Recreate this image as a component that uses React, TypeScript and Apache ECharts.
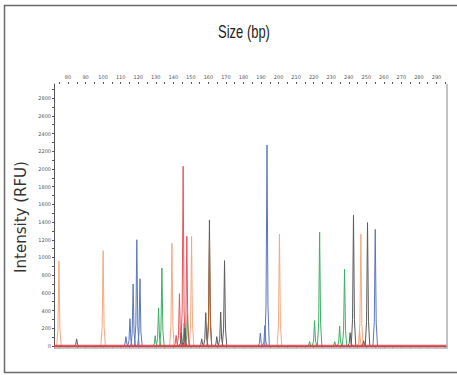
import React, { useEffect, useRef } from "react";
import * as echarts from "echarts";

// Tick labels / tick positions
const sizeLabels = [80, 90, 100, 110, 120, 130, 140, 150, 160, 170, 180, 190, 200, 210, 220, 230, 240, 250, 260, 270, 280, 290];
const sizeTicks = [75, 80, 85, 90, 95, 100, 105, 110, 115, 120, 125, 130, 135, 140, 145, 150, 155, 160, 165, 170, 175, 180, 185, 190, 195, 200, 205, 210, 215, 220, 225, 230, 235, 240, 245, 250, 255, 260, 265, 270, 275, 280, 285, 290, 295];
const rfuLabels = [0, 200, 400, 600, 800, 1000, 1200, 1400, 1600, 1800, 2000, 2200, 2400, 2600, 2800];
const rfuTicks = [0, 100, 200, 300, 400, 500, 600, 700, 800, 900, 1000, 1100, 1200, 1300, 1400, 1500, 1600, 1700, 1800, 1900, 2000, 2100, 2200, 2300, 2400, 2500, 2600, 2700, 2800, 2900];

// Peaks per dye: [size (bp), intensity (RFU)]
const bluePeaks: [number, number][] = [
  [113.0, 105], [115.3, 308], [117.1, 700], [119.2, 1200], [121.0, 760],
  [189.6, 147], [192.2, 230], [193.4, 2270], [255.1, 1318],
];
const greenPeaks: [number, number][] = [
  [129.7, 116], [131.6, 430], [133.5, 880], [146.2, 260], [148.1, 360],
  [217.7, 50], [220.5, 286], [223.4, 1285], [232.0, 50], [234.8, 226], [237.6, 866],
];
const orangePeaks: [number, number][] = [
  [74.8, 960], [100.0, 1077], [139.2, 1160], [150.4, 1235], [200.5, 1262],
  [246.2, 170], [246.9, 1262],
];
const brownPeaks: [number, number][] = [[160.6, 1190]];
const redPeaks: [number, number][] = [
  [141.6, 120], [143.5, 590], [145.6, 2030], [147.7, 1240],
];
const blackPeaks: [number, number][] = [
  [84.9, 80], [144.6, 150], [146.6, 200], [156.2, 80], [158.5, 376], [160.6, 1424],
  [164.8, 105], [167.0, 384], [169.2, 964], [240.8, 150], [242.7, 1480],
  [248.5, 60], [250.7, 1394],
];
const baselineRFU = 0;

const dyes = [
  { color: "#f4a982", peaks: orangePeaks },
  { color: "#5a77bd", peaks: bluePeaks },
  { color: "#3fae66", peaks: greenPeaks },
  { color: "#e8555c", peaks: redPeaks },
  { color: "#5c5c5c", peaks: blackPeaks },
  { color: "#b8632c", peaks: brownPeaks },
];

// peak outline shape (style): [dx in bp, fraction of height]
const profile: [number, number][] = [[-1.3, 0], [-0.55, 0.2], [0, 1], [0.55, 0.2], [1.3, 0]];

const X_MIN = 72;
const X_MAX = 296;

export default function App() {
  const ref = useRef<HTMLDivElement>(null);
  useEffect(() => {
    if (!ref.current) return;
    const chart = echarts.init(ref.current, null, { renderer: "svg" });
    const series: any[] = [];
    dyes.forEach((d) => {
      d.peaks.forEach(([p, h]) => {
        series.push({
          type: "line",
          xAxisIndex: 0,
          yAxisIndex: 0,
          data: profile.map(([dx, f]) => [p + dx, h * f]),
          showSymbol: false,
          silent: true,
          lineStyle: { color: d.color, width: 1 },
          z: 2,
        });
      });
    });
    series.push({
      type: "line",
      data: [[X_MIN, baselineRFU], [X_MAX, baselineRFU]],
      showSymbol: false,
      silent: true,
      lineStyle: { color: "rgba(232,60,70,0.85)", width: 2.5 },
      z: 3,
    });

    const labelStyle = { fontSize: 5, color: "#555", fontFamily: "DejaVu Sans" };
    chart.setOption({
      animation: false,
      grid: { left: 54, top: 84, right: 10, bottom: 27, containLabel: false },
      xAxis: [
        {
          type: "value",
          position: "top",
          min: X_MIN,
          max: X_MAX,
          axisLine: { show: true, lineStyle: { color: "#555", width: 1 } },
          axisTick: { show: true, inside: true, length: 2, customValues: sizeTicks, lineStyle: { color: "#555" } },
          axisLabel: { show: true, customValues: sizeLabels, margin: 5, formatter: (v: number) => String(v), ...labelStyle },
          splitLine: { show: false },
        },
        {
          type: "value",
          position: "top",
          min: X_MIN,
          max: X_MAX,
          axisLine: { show: false },
          axisTick: { show: true, inside: false, length: 2, customValues: sizeTicks, lineStyle: { color: "#555" } },
          axisLabel: { show: false },
          splitLine: { show: false },
        },
      ],
      yAxis: {
        type: "value",
        min: -23,
        max: 2960,
        axisLine: { show: true, lineStyle: { color: "#555", width: 1 } },
        axisTick: { show: true, length: 2, customValues: rfuTicks, lineStyle: { color: "#555" } },
        axisLabel: { show: true, customValues: rfuLabels, margin: 3, formatter: (v: number) => String(v), ...labelStyle },
        splitLine: { show: false },
      },
      graphic: [
        {
          type: "rect",
          shape: { x: 4.5, y: 5.5, width: 470, height: 367 },
          style: { fill: "none", stroke: "#6a6a6a", lineWidth: 1.5 },
          silent: true,
          z: 0,
        },
        {
          type: "polyline",
          shape: { points: [[447, 84], [447, 348], [54, 348]] },
          style: { fill: "none", stroke: "#b0b0b0", lineWidth: 1.5 },
          silent: true,
          z: 10,
        },
        {
          type: "text",
          x: 244,
          y: 32,
          scaleX: 0.72,
          style: {
            text: "Size (bp)",
            fontSize: 18,
            fontFamily: "'Liberation Sans', sans-serif",
            fill: "#222",
            textAlign: "center",
            textVerticalAlign: "middle",
          },
          silent: true,
        },
        {
          type: "text",
          x: 21,
          y: 217,
          rotation: Math.PI / 2,
          style: {
            text: "Intensity (RFU)",
            fontSize: 15,
            fontFamily: "'DejaVu Sans', sans-serif",
            fill: "#333",
            textAlign: "center",
            textVerticalAlign: "middle",
          },
          silent: true,
        },
      ],
      series,
    });
    return () => chart.dispose();
  }, []);
  return (
    <div
      ref={ref}
      style={{ position: "fixed", left: 0, top: 0, width: 457, height: 375, background: "#fff" }}
    />
  );
}
